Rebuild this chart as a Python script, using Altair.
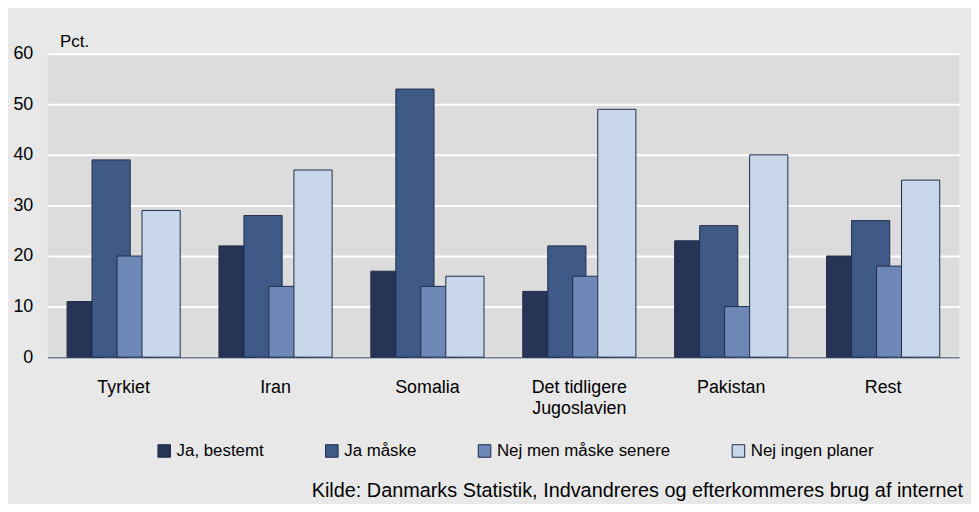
import altair as alt
import pandas as pd

countries = ["Tyrkiet", "Iran", "Somalia", "Det tidligere Jugoslavien", "Pakistan", "Rest"]
series = ["Ja, bestemt", "Ja måske", "Nej men måske senere", "Nej ingen planer"]
ja_bestemt = [11, 22, 17, 13, 23, 20]
ja_maaske = [39, 28, 53, 22, 26, 27]
nej_senere = [20, 14, 14, 16, 10, 18]
nej_ingen = [29, 37, 16, 49, 40, 35]
colors = ["#263555", "#405a88", "#6d88b7", "#c8d7ea"]
source_note = "Kilde: Danmarks Statistik, Indvandreres og efterkommeres brug af internet"

values = [ja_bestemt, ja_maaske, nej_senere, nej_ingen]
rows = []
for i, c in enumerate(countries):
    for s, vals in zip(series, values):
        rows.append({"land": c, "serie": s, "pct": vals[i]})
df = pd.DataFrame(rows)

FONT = "Liberation Sans"

chart = alt.Chart(df).mark_bar(
    width=38.5, stroke="#1f2c48", strokeWidth=1
).encode(
    x=alt.X("land:N", sort=countries, title=None,
            scale=alt.Scale(paddingInner=0.342, paddingOuter=0.171),
            axis=alt.Axis(labelAngle=0, labelFontSize=18, labelFont=FONT, labelColor="black",
                          ticks=False, labelPadding=22, domainColor="#6b7893", domainWidth=1.5,
                          labelLineHeight=21,
                          labelExpr="datum.label == 'Det tidligere Jugoslavien' ? ['Det tidligere', 'Jugoslavien'] : datum.label")),
    xOffset=alt.XOffset("serie:N", sort=series, scale=alt.Scale(padding=0)),
    y=alt.Y("pct:Q", stack=None, scale=alt.Scale(domain=[0, 60]),
            axis=alt.Axis(values=[0, 10, 20, 30, 40, 50, 60], title="Pct.", titleAngle=0,
                          titleAlign="left", titleBaseline="alphabetic", titleX=12, titleY=-7,
                          titleFont=FONT, titleFontSize=17, titleFontWeight="normal", titleColor="black",
                          labelFont=FONT, labelFontSize=18, labelColor="black", labelPadding=15,
                          ticks=False, domain=False, gridColor="white", gridWidth=2)),
    color=alt.Color("serie:N", sort=series,
                    scale=alt.Scale(domain=series, range=colors),
                    legend=alt.Legend(title=None, orient="none", direction="horizontal",
                                      legendX=109, legendY=392, symbolType="square", symbolSize=160,
                                      symbolStrokeColor="#1f2c48", symbolStrokeWidth=1,
                                      labelFont=FONT, labelFontSize=17, labelColor="black",
                                      labelLimit=400, labelOffset=4, columnPadding=60)),
).properties(
    width=919, height=306,
    padding={"left": 40, "top": 44, "right": 12, "bottom": 146},
    autosize=alt.AutoSizeParams(type="none"),
    background="#e8e8e8",
    title=alt.TitleParams(text=source_note, orient="bottom", anchor="end", fontSize=20,
                          fontWeight="normal", font=FONT, color="black", offset=22, dx=4),
).configure_view(fill="#dcdcdc", strokeWidth=0)

chart.save("out.html", embed_options={"renderer": "svg", "actions": False})
